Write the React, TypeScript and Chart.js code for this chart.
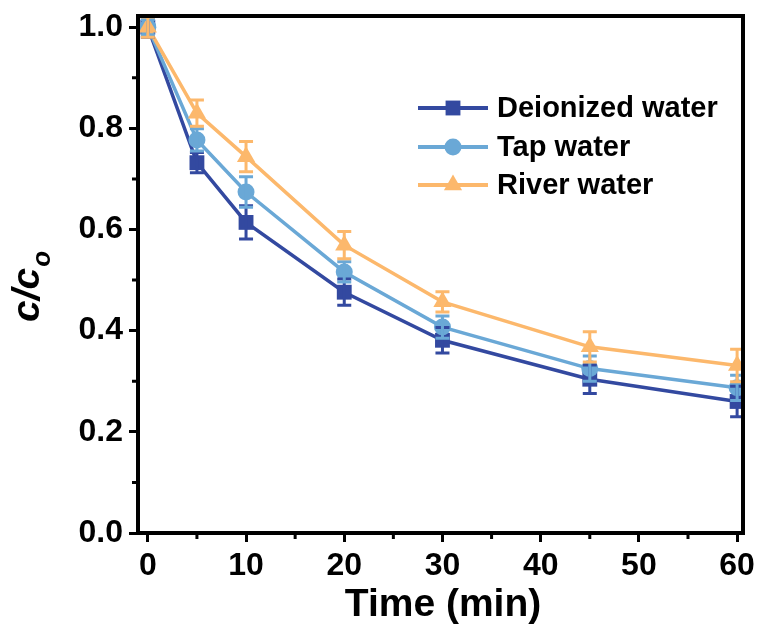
import React, { useEffect, useRef } from 'react';
import { Chart, registerables } from 'chart.js';

Chart.register(...registerables);

// ---- data ----
const times = [0, 5, 10, 20, 30, 45, 60];
const seriesNames = ['Deionized water', 'Tap water', 'River water'];
const deionized = [1.0, 0.732, 0.614, 0.476, 0.381, 0.304, 0.26];
const deionizedErr = [0.02, 0.02, 0.033, 0.026, 0.025, 0.028, 0.03];
const tapWater = [1.0, 0.777, 0.674, 0.516, 0.407, 0.325, 0.287];
const tapWaterErr = [0.015, 0.022, 0.03, 0.02, 0.022, 0.025, 0.025];
const riverWater = [1.0, 0.83, 0.744, 0.569, 0.457, 0.368, 0.331];
const riverWaterErr = [0.02, 0.026, 0.03, 0.027, 0.02, 0.03, 0.032];
const xMajorTicks = [0, 10, 20, 30, 40, 50, 60];
const xMinorTicks = [5, 15, 25, 35, 45, 55];
const yMajorTicks = [0, 0.2, 0.4, 0.6, 0.8, 1.0];
const yMinorTicks = [0.1, 0.3, 0.5, 0.7, 0.9];
const xTitle = 'Time (min)';
const yTitleMain = 'c/c';
const yTitleSub = 'o';

const colors = ['#3349a0', '#6aa8d6', '#fcb86c'];
const pointStyles = ['rect', 'circle', 'triangle'];
const pointRadii = [10.5, 8.5, 10.5];
const drawOrder = [3, 2, 1];
const values = [deionized, tapWater, riverWater];
const errors = [deionizedErr, tapWaterErr, riverWaterErr];

const FONT = "'Liberation Sans', Arial, Helvetica, sans-serif";

function drawMarker(ctx: CanvasRenderingContext2D, style: string, x: number, y: number, r: number) {
  ctx.beginPath();
  if (style === 'rect') {
    const s = Math.SQRT1_2 * r;
    ctx.rect(x - s, y - s, 2 * s, 2 * s);
  } else if (style === 'circle') {
    ctx.arc(x, y, r, 0, Math.PI * 2);
  } else {
    let rad = 0;
    ctx.moveTo(x + Math.sin(rad) * r, y - Math.cos(rad) * r);
    rad += (2 * Math.PI) / 3;
    ctx.lineTo(x + Math.sin(rad) * r, y - Math.cos(rad) * r);
    rad += (2 * Math.PI) / 3;
    ctx.lineTo(x + Math.sin(rad) * r, y - Math.cos(rad) * r);
    ctx.closePath();
  }
  ctx.fill();
}

const errorBarPlugin = {
  id: 'errorBars',
  afterDatasetsDraw(chart: any) {
    const ctx = chart.ctx as CanvasRenderingContext2D;
    const xs = chart.scales.x;
    const ys = chart.scales.y;
    ctx.save();
    ctx.lineWidth = 3;
    values.forEach((series, i) => {
      ctx.strokeStyle = colors[i];
      times.forEach((t, j) => {
        const px = xs.getPixelForValue(t);
        const v = series[j];
        const e = errors[i][j];
        const top = ys.getPixelForValue(v + e);
        const bot = ys.getPixelForValue(v - e);
        ctx.beginPath();
        ctx.moveTo(px, top);
        ctx.lineTo(px, bot);
        ctx.moveTo(px - 7, top);
        ctx.lineTo(px + 7, top);
        ctx.moveTo(px - 7, bot);
        ctx.lineTo(px + 7, bot);
        ctx.stroke();
      });
    });
    ctx.restore();
  },
};

const decorPlugin = {
  id: 'decor',
  afterDraw(chart: any) {
    const ctx = chart.ctx as CanvasRenderingContext2D;
    const a = chart.chartArea;
    const xs = chart.scales.x;
    const ys = chart.scales.y;
    ctx.save();
    // frame
    ctx.strokeStyle = '#000';
    ctx.lineWidth = 4;
    ctx.strokeRect(a.left, a.top, a.right - a.left, a.bottom - a.top);
    // minor ticks
    ctx.lineWidth = 3;
    ctx.beginPath();
    xMinorTicks.forEach((t) => {
      const px = xs.getPixelForValue(t);
      ctx.moveTo(px, a.bottom);
      ctx.lineTo(px, a.bottom + 6);
    });
    yMinorTicks.forEach((t) => {
      const py = ys.getPixelForValue(t);
      ctx.moveTo(a.left, py);
      ctx.lineTo(a.left - 6, py);
    });
    ctx.stroke();

    // x title
    ctx.fillStyle = '#000';
    ctx.font = `bold 39px ${FONT}`;
    ctx.textAlign = 'center';
    ctx.textBaseline = 'middle';
    ctx.fillText(xTitle, 443, 605);

    // y title
    ctx.save();
    ctx.translate(39, 322);
    ctx.rotate(-Math.PI / 2);
    ctx.textAlign = 'left';
    ctx.textBaseline = 'alphabetic';
    ctx.font = `italic bold 39px ${FONT}`;
    ctx.fillText(yTitleMain, 0, 0);
    const w = ctx.measureText(yTitleMain).width;
    ctx.font = `italic bold 26px ${FONT}`;
    ctx.fillText(yTitleSub, w + 1, 11);
    ctx.restore();

    // legend
    const rows = [108, 147, 185];
    seriesNames.forEach((name, i) => {
      const y = rows[i];
      ctx.strokeStyle = colors[i];
      ctx.fillStyle = colors[i];
      ctx.lineWidth = 4;
      ctx.beginPath();
      ctx.moveTo(418, y);
      ctx.lineTo(488, y);
      ctx.stroke();
      drawMarker(ctx, pointStyles[i], 453, y, pointRadii[i]);
      ctx.fillStyle = '#000';
      ctx.font = `bold 29px ${FONT}`;
      ctx.textAlign = 'left';
      ctx.textBaseline = 'middle';
      ctx.fillText(name, 497, y + 1);
    });
    ctx.restore();
  },
};

export default function App() {
  const canvasRef = useRef<HTMLCanvasElement | null>(null);

  useEffect(() => {
    if (!canvasRef.current) return;
    const chart = new Chart(canvasRef.current, {
      type: 'line',
      data: {
        datasets: seriesNames.map((name, i) => ({
          label: name,
          data: times.map((t, j) => ({ x: t, y: values[i][j] })),
          order: drawOrder[i],
          borderColor: colors[i],
          backgroundColor: colors[i],
          borderWidth: 3.5,
          pointStyle: pointStyles[i] as any,
          pointRadius: pointRadii[i],
          pointBorderWidth: 0,
          pointBackgroundColor: colors[i],
          tension: 0,
          fill: false,
        })),
      },
      options: {
        responsive: false,
        animation: false,
        devicePixelRatio: 1,
        layout: { padding: { left: 0, top: 16, right: 16, bottom: 0 } },
        plugins: {
          legend: { display: false },
          tooltip: { enabled: false },
        },
        scales: {
          x: {
            type: 'linear',
            min: -1,
            max: 60.6,
            afterBuildTicks: (scale: any) => {
              scale.ticks = xMajorTicks.map((v) => ({ value: v }));
            },
            afterFit: (scale: any) => {
              scale.height = 99;
              scale.paddingLeft = 0;
              scale.paddingRight = 0;
            },
            ticks: {
              color: '#000',
              font: { family: FONT, size: 32, weight: 'bold' },
              padding: 5,
              maxRotation: 0,
              autoSkip: false,
              callback: (v: any) => String(v),
            },
            grid: {
              drawOnChartArea: false,
              drawTicks: true,
              tickLength: 9,
              tickWidth: 3,
              tickColor: '#000',
            },
            border: { display: true, color: '#000', width: 4 },
          },
          y: {
            type: 'linear',
            min: 0,
            max: 1.022,
            afterBuildTicks: (scale: any) => {
              scale.ticks = yMajorTicks.map((v) => ({ value: v }));
            },
            afterFit: (scale: any) => {
              scale.width = 138;
              scale.paddingTop = 0;
              scale.paddingBottom = 0;
            },
            ticks: {
              color: '#000',
              font: { family: FONT, size: 32, weight: 'bold' },
              padding: 6,
              autoSkip: false,
              callback: (v: any) => Number(v).toFixed(1),
            },
            grid: {
              drawOnChartArea: false,
              drawTicks: true,
              tickLength: 9,
              tickWidth: 3,
              tickColor: '#000',
            },
            border: { display: true, color: '#000', width: 4 },
          },
        },
      },
      plugins: [errorBarPlugin, decorPlugin],
    });
    return () => chart.destroy();
  }, []);

  return (
    <div style={{ position: 'fixed', left: 0, top: 0, width: 759, height: 632, background: '#fff' }}>
      <canvas ref={canvasRef} width={759} height={632} style={{ display: 'block' }} />
    </div>
  );
}
